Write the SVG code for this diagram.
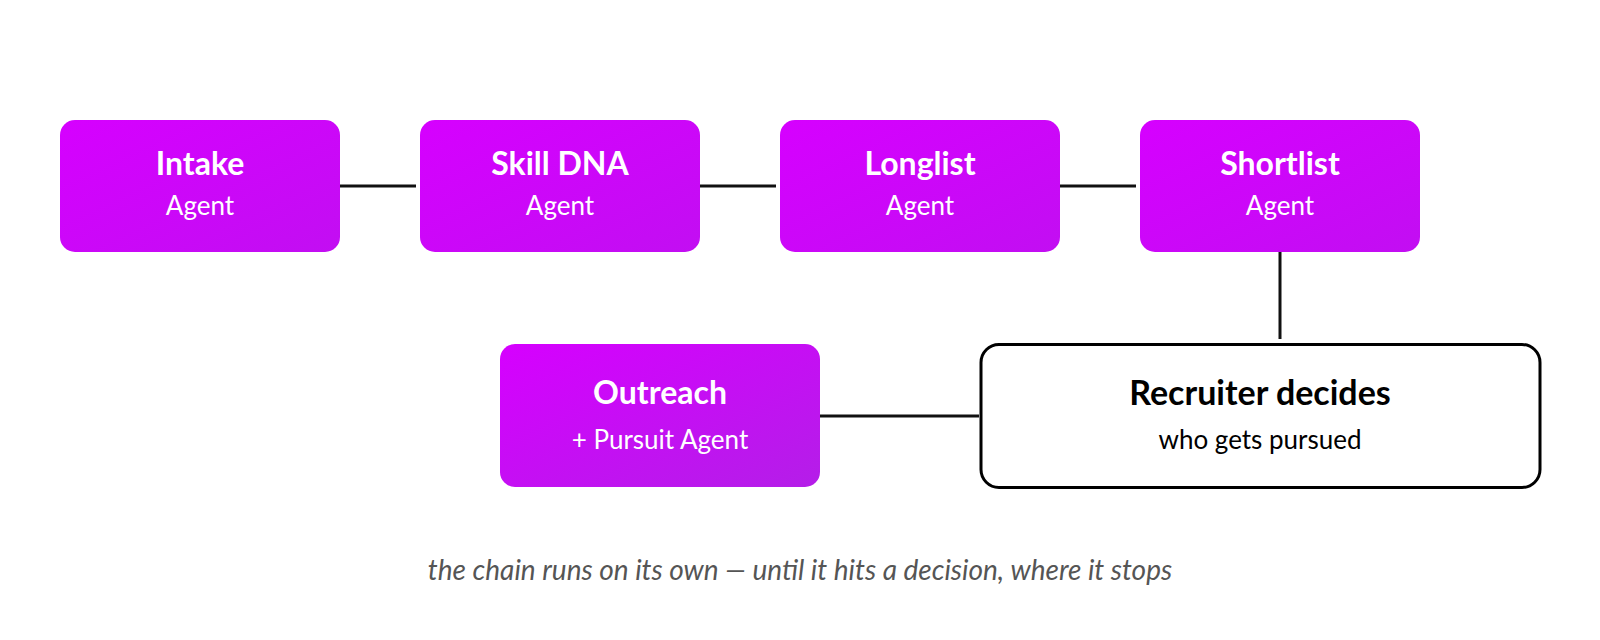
<svg xmlns="http://www.w3.org/2000/svg" width="1600" height="640" viewBox="0 0 1600 640">
<defs>
<linearGradient id="g1" x1="0" y1="0" x2="1" y2="1"><stop offset="0" stop-color="#d600ff"/><stop offset="1" stop-color="#c20ef2"/></linearGradient>
<linearGradient id="g2" x1="0" y1="0" x2="1" y2="1"><stop offset="0" stop-color="#d600ff"/><stop offset="1" stop-color="#b41ee8"/></linearGradient>
<style>
.agent{fill:url(#g1)}
.t{font-family:Lato,"Liberation Sans",sans-serif;text-anchor:middle}
.h{font-weight:700;font-size:32px;fill:#fff}
.s{font-size:26px;fill:#fff}
.hd{font-weight:700;font-size:34px;fill:#000}
.sd{font-size:26px;fill:#000}
.c{font-style:italic;font-size:28px;fill:#555}
.ln{stroke:#111;stroke-width:3;fill:none}
</style>
</defs>
<g id="connectors">
<line class="ln" x1="340" y1="186" x2="416" y2="186"/>
<line class="ln" x1="700" y1="186" x2="776" y2="186"/>
<line class="ln" x1="1060" y1="186" x2="1136" y2="186"/>
<line class="ln" x1="1280" y1="252" x2="1280" y2="339"/>
<line class="ln" x1="820" y1="416" x2="979" y2="416"/>
</g>
<g id="intake">
<rect class="agent" x="60" y="120" width="280" height="132" rx="15"/>
<text class="t h" x="200" y="175">Intake</text>
<text class="t s" x="200" y="215">Agent</text>
</g>
<g id="skilldna">
<rect class="agent" x="420" y="120" width="280" height="132" rx="15"/>
<text class="t h" x="560" y="175">Skill DNA</text>
<text class="t s" x="560" y="215">Agent</text>
</g>
<g id="longlist">
<rect class="agent" x="780" y="120" width="280" height="132" rx="15"/>
<text class="t h" x="920" y="175">Longlist</text>
<text class="t s" x="920" y="215">Agent</text>
</g>
<g id="shortlist">
<rect class="agent" x="1140" y="120" width="280" height="132" rx="15"/>
<text class="t h" x="1280" y="175">Shortlist</text>
<text class="t s" x="1280" y="215">Agent</text>
</g>
<g id="recruiter">
<rect x="981" y="344.5" width="559" height="143" rx="18" fill="#fff" stroke="#000" stroke-width="3"/>
<text class="t hd" x="1260" y="405">Recruiter decides</text>
<text class="t sd" x="1260" y="449">who gets pursued</text>
</g>
<g id="outreach">
<rect x="500" y="344" width="320" height="143" rx="15" fill="url(#g2)"/>
<text class="t h" x="660" y="404">Outreach</text>
<text class="t s" x="660" y="449">+ Pursuit Agent</text>
</g>
<text class="t c" x="800" y="580">the chain runs on its own — until it hits a decision, where it stops</text>
</svg>
